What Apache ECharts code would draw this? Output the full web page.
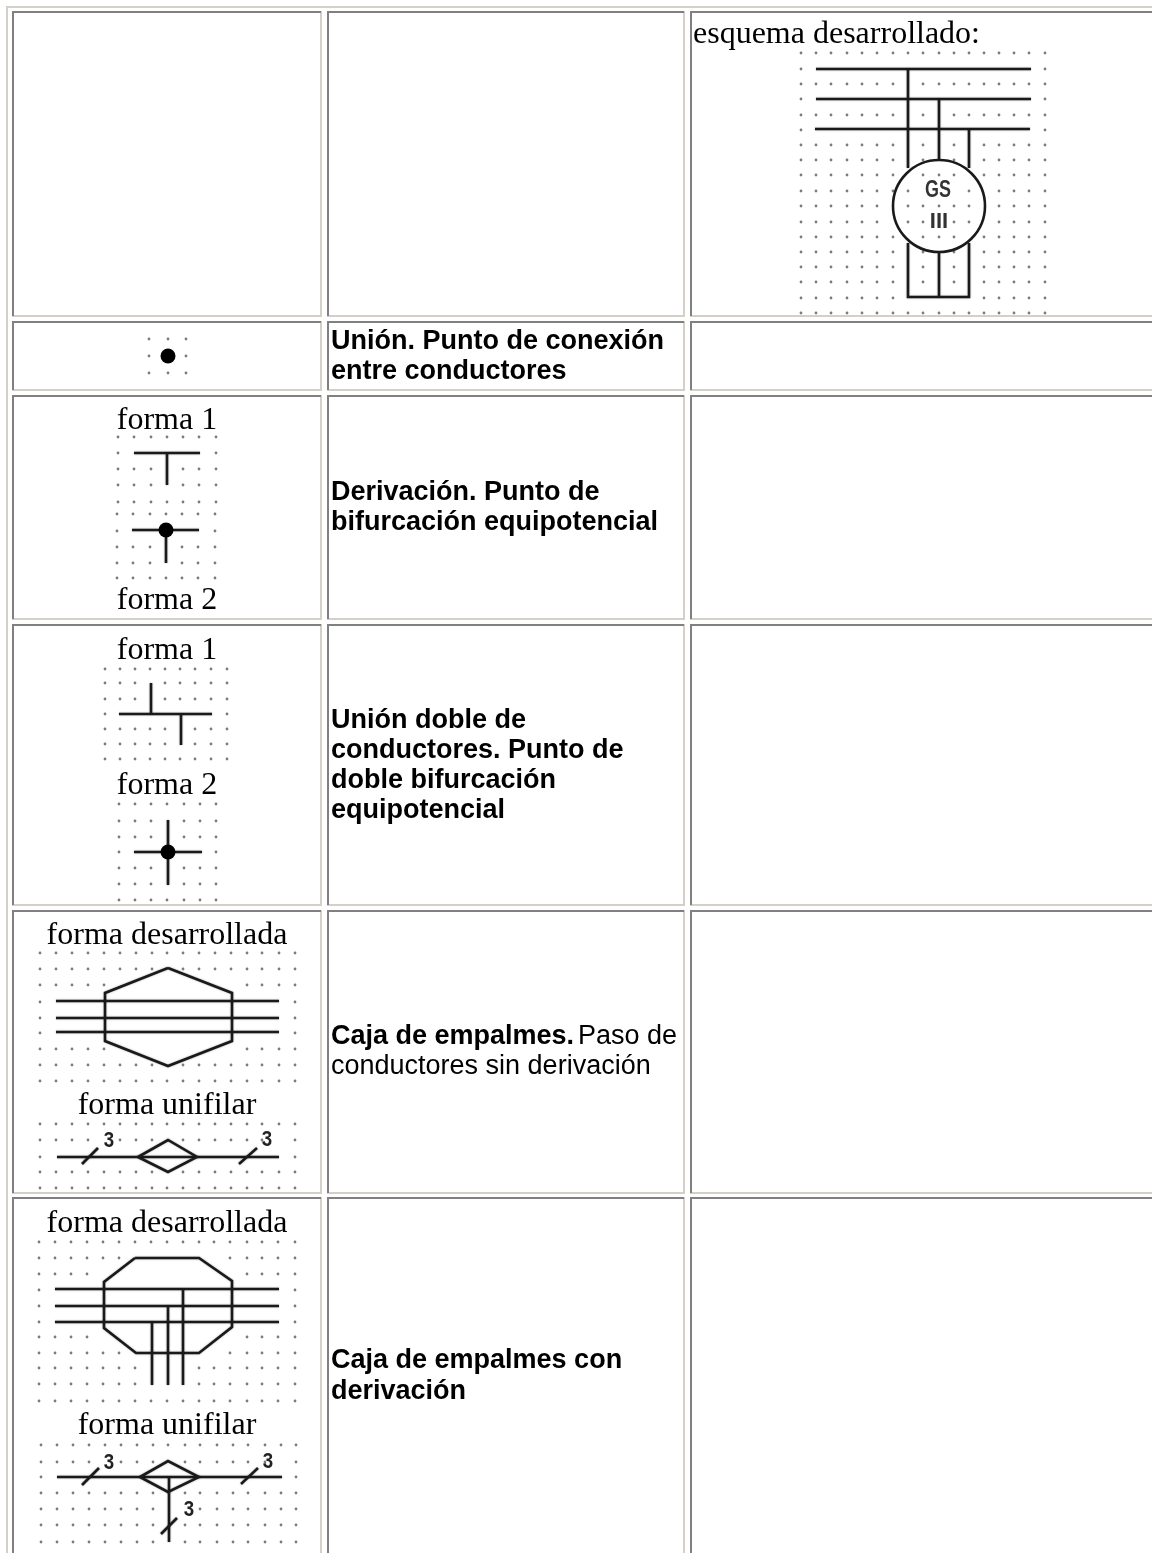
<!DOCTYPE html>
<html lang="es">
<head>
  <meta charset="utf-8" />
  <title>Simbolos electricos</title>
  <script src="https://cdn.jsdelivr.net/npm/echarts@6/dist/echarts.min.js"></script>
  <style>
    html, body { margin: 0; padding: 0; background: #fff; }
  </style>
</head>
<body>
  <div id="main" style="width: 1152px;height:1553px;"></div>
  <script type="text/javascript">
    // table frame
    const colLeft = [13, 328, 691];
    const colRight = [321, 684, 1160];
    const rowTop = [12, 322, 396, 625, 911, 1198];
    const rowBottom = [316, 390, 619, 905, 1193, 1560];
    const tableFrame = [[7, 1560], [7, 7], [1160, 7]];

    // texts: [text, x, baseline y]
    const serifTexts = [
      ['forma 1', 167, 427], ['forma 2', 167, 607],
      ['forma 1', 167, 657], ['forma 2', 167, 792],
      ['forma desarrollada', 167, 942], ['forma unifilar', 167, 1112],
      ['forma desarrollada', 167, 1230], ['forma unifilar', 167, 1432]
    ];
    const serifLeftTexts = [['esquema desarrollado:', 693, 41]];
    const boldTexts = [
      ['Unión. Punto de conexión', 331, 348], ['entre conductores', 331, 378],
      ['Derivación. Punto de', 331, 499], ['bifurcación equipotencial', 331, 529],
      ['Unión doble de', 331, 727], ['conductores. Punto de', 331, 757],
      ['doble bifurcación', 331, 787], ['equipotencial', 331, 817],
      ['Caja de empalmes.', 331, 1043],
      ['Caja de empalmes con', 331, 1367], ['derivación', 331, 1398]
    ];
    const plainTexts = [['Paso de', 578, 1043], ['conductores sin derivación', 331, 1073]];
    // these lists hold the centre of the glyph instead of the baseline
    const wireCounts = [
      ['3', 109, 1141], ['3', 267, 1140],
      ['3', 109, 1463], ['3', 268, 1462], ['3', 189, 1510]
    ];
    const motorName = [['GS', 938, 191]];
    const motorPhases = [['III', 939, 222]];

    // wires as polylines
    const motorWires = [
      [[816, 69], [1031, 69]], [[816, 99], [1031, 99]], [[815, 129], [1030, 129]],
      [[908, 69], [908, 168]], [[939, 99], [939, 160]], [[969, 129], [969, 168]],
      [[908, 243], [908, 297], [969, 297], [969, 243]], [[939, 252], [939, 297]]
    ];
    const branchWires = [
      [[134, 453], [200, 453]], [[167, 453], [167, 485]],
      [[132, 530], [199, 530]], [[166, 530], [166, 563]]
    ];
    const doubleWires = [
      [[119, 714], [212, 714]], [[151, 683], [151, 714]], [[181, 714], [181, 745]],
      [[134, 852], [202, 852]], [[168, 820], [168, 885]]
    ];
    const boxWires = [
      [[168, 968], [232, 993], [232, 1041], [168, 1066], [105, 1041], [105, 993], [168, 968]],
      [[56, 1001], [279, 1001]], [[56, 1018], [279, 1018]], [[56, 1032], [279, 1032]],
      [[57, 1157], [279, 1157]], [[82, 1164], [98, 1148]], [[239, 1164], [257, 1148]],
      [[138, 1157], [168, 1140], [197, 1157], [168, 1172], [138, 1157]]
    ];
    const tapBoxWires = [
      [[135, 1258], [199, 1258], [232, 1281], [232, 1327], [199, 1353], [136, 1353], [104, 1328], [104, 1282], [135, 1258]],
      [[55, 1289], [279, 1289]], [[55, 1306], [279, 1306]], [[55, 1322], [279, 1322]],
      [[183, 1289], [183, 1385]], [[168, 1306], [168, 1385]], [[152, 1322], [152, 1385]],
      [[57, 1477], [282, 1477]], [[82, 1485], [99, 1468]], [[241, 1484], [258, 1468]],
      [[140, 1477], [168, 1461], [199, 1477], [168, 1492], [140, 1477]],
      [[169, 1477], [169, 1542]], [[161, 1534], [177, 1518]]
    ];

    const junctions = [[168, 356], [166, 530], [168, 852]];
    const motorCircle = [[939, 206]];

    // background dot lattices: columns, rows and which dots show
    const motorDots = {
      xs: [801, 816, 831, 847, 862, 877, 893, 908, 923, 939, 954, 969, 984, 999, 1014, 1029, 1045],
      ys: [53, 69, 84, 99, 115, 130, 145, 160, 175, 191, 206, 222, 237, 252, 267, 282, 298, 313],
      mask: [
        '.................', '.               .', '....... .........', '.               .',
        '....... . .......', '.               .', '....... . . .....', '....... . . .....',
        '....... ... .....', '........   . ....', '...... ..... ....', '...... .. .. ....',
        '....... ... .....', '....... . . .....', '....... . . .....', '....... . . .....',
        '.......     .....', '.................'
      ]
    };
    const unionDots = {
      xs: [149, 168, 186],
      ys: [339, 356, 373],
      mask: ['...', '. .', '...']
    };
    const branchDots1 = {
      xs: [118, 134, 151, 167, 183, 199, 216],
      ys: [437, 453, 469, 485, 502],
      mask: ['.......', '.     .', '... ...', '... ...', '.......']
    };
    const branchDots2 = {
      xs: [117, 133, 150, 166, 182, 198, 215],
      ys: [514, 531, 547, 563, 578],
      mask: ['.......', '.     .', '... ...', '... ...', '.......']
    };
    const doubleDots1 = {
      xs: [105, 120, 135, 150, 165, 180, 195, 211, 227],
      ys: [669, 683, 699, 714, 729, 744, 759],
      mask: ['.........', '... .....', '... .....', '.       .', '..... ...', '..... ...', '.........']
    };
    const doubleDots2 = {
      xs: [119, 135, 151, 167, 184, 200, 216],
      ys: [804, 821, 837, 852, 868, 884, 900],
      mask: ['.......', '... ...', '... ...', '.     .', '... ...', '... ...', '.......']
    };
    const boxDots1 = {
      xs: [40, 56, 72, 88, 104, 120, 136, 152, 167, 183, 199, 215, 231, 247, 262, 279, 295],
      ys: [953, 969, 985, 1002, 1018, 1033, 1049, 1065, 1081],
      mask: [
        '.................', '........ ........', '.....        ....',
        '.               .', '.               .', '.               .',
        '.....        ....', '........ ........', '.................'
      ]
    };
    const boxDots2 = {
      xs: [40, 56, 72, 88, 104, 120, 136, 152, 167, 183, 199, 215, 231, 247, 262, 279, 295],
      ys: [1124, 1140, 1157, 1172, 1188],
      mask: ['.................', '.... ... ...... .', '.               .', '........ ........', '.................']
    };
    const tapDots1 = {
      xs: [39, 55, 71, 87, 103, 119, 135, 151, 167, 183, 199, 214, 230, 247, 262, 278, 295],
      ys: [1242, 1258, 1274, 1290, 1306, 1322, 1337, 1353, 1368, 1384, 1401],
      mask: [
        '.................', '......      .....', '....         ....',
        '.               .', '.               .', '.               .',
        '....         ....', '......      .....', '.......   .......',
        '.......   .......', '.................'
      ]
    };
    const tapDots2 = {
      xs: [41, 57, 73, 89, 105, 121, 137, 153, 168, 185, 200, 217, 233, 248, 265, 281, 296],
      ys: [1445, 1462, 1477, 1493, 1509, 1525, 1542],
      mask: [
        '.................', '.... ... ...... .', '.               .', '........ ........',
        '........  .......', '........ ........', '........ ........'
      ]
    };
    const dotLattices = [motorDots, unionDots, branchDots1, branchDots2, doubleDots1, doubleDots2, boxDots1, boxDots2, tapDots1, tapDots2];

    // 基于准备好的dom，初始化echarts实例
    var myChart = echarts.init(document.getElementById('main'));

    const greyLines = [];
    const lightLines = [{ coords: tableFrame }];
    colLeft.forEach(function (x0, c) {
      rowTop.forEach(function (y0, r) {
        const x1 = colRight[c];
        const y1 = rowBottom[r];
        greyLines.push({ coords: [[x0, y1], [x0, y0], [x1, y0]] });
        lightLines.push({ coords: [[x1, y0 - 1], [x1, y1], [x0 - 1, y1]] });
      });
    });

    const dotData = [];
    dotLattices.forEach(function (lat) {
      lat.mask.forEach(function (row, r) {
        row.split('').forEach(function (ch, c) {
          if (ch !== ' ') dotData.push([lat.xs[c], lat.ys[r]]);
        });
      });
    });

    function lineSeries(rows, color, width, z, soft) {
      return {
        type: 'lines',
        coordinateSystem: 'cartesian2d',
        polyline: true,
        silent: true,
        z: z,
        lineStyle: {
          color: color,
          width: width,
          opacity: 1,
          shadowBlur: soft ? 2 : 0,
          shadowColor: 'rgba(0,0,0,0.35)'
        },
        data: rows
      };
    }

    function wires(list) {
      return list.map(function (pts) { return { coords: pts }; });
    }

    // one text per data row, placed by the axes
    function textSeries(rows, font, align, color, drop, squeeze) {
      return {
        type: 'custom',
        coordinateSystem: 'cartesian2d',
        silent: true,
        z: 6,
        data: rows.map(function (r) { return [r[1], r[2]]; }),
        renderItem: function (params, api) {
          const pt = api.coord([api.value(0), api.value(1)]);
          return {
            type: 'text',
            x: pt[0],
            y: pt[1] - drop,
            scaleX: squeeze || 1,
            style: {
              text: rows[params.dataIndex][0],
              font: font,
              fill: color,
              textAlign: align,
              textVerticalAlign: 'middle'
            }
          };
        }
      };
    }

    const option = {
      animation: false,
      backgroundColor: '#ffffff',
      grid: { left: 0, right: 0, top: 0, bottom: 0 },
      xAxis: { type: 'value', min: 0, max: 1152, show: false },
      yAxis: { type: 'value', min: 0, max: 1553, inverse: true, show: false },
      series: [
        lineSeries(lightLines, '#d4d0c8', 2, 1, false),
        lineSeries(greyLines, '#808080', 2, 2, false),
        {
          type: 'scatter',
          silent: true,
          symbolSize: 2.8,
          z: 3,
          itemStyle: { color: '#7c7c7c', opacity: 1 },
          data: dotData
        },
        lineSeries(wires(motorWires), '#1a1a1a', 2.6, 4, true),
        lineSeries(wires(branchWires), '#1a1a1a', 2.6, 4, true),
        lineSeries(wires(doubleWires), '#1a1a1a', 2.6, 4, true),
        lineSeries(wires(boxWires), '#1a1a1a', 2.6, 4, true),
        lineSeries(wires(tapBoxWires), '#1a1a1a', 2.6, 4, true),
        {
          type: 'scatter',
          silent: true,
          symbolSize: 92,
          z: 4,
          itemStyle: { color: 'rgba(0,0,0,0)', borderColor: '#1a1a1a', borderWidth: 2.6, opacity: 1 },
          data: motorCircle
        },
        {
          type: 'scatter',
          silent: true,
          symbolSize: 15,
          z: 5,
          itemStyle: { color: '#000000', opacity: 1 },
          data: junctions
        },
        textSeries(serifTexts, '32px "Liberation Serif"', 'center', '#000000', 6),
        textSeries(serifLeftTexts, '32px "Liberation Serif"', 'left', '#000000', 6),
        textSeries(boldTexts, 'bold 27px "Liberation Sans"', 'left', '#000000', 6),
        textSeries(plainTexts, '27px "Liberation Sans"', 'left', '#000000', 6),
        textSeries(wireCounts, 'bold 22px "Liberation Sans"', 'center', '#222222', 0, 0.85),
        textSeries(motorName, 'bold 23px "Liberation Sans"', 'center', '#333333', 0, 0.78),
        textSeries(motorPhases, 'bold 22px "Liberation Sans"', 'center', '#333333', 0, 1)
      ]
    };
    myChart.setOption(option);
  </script>
</body>
</html>
